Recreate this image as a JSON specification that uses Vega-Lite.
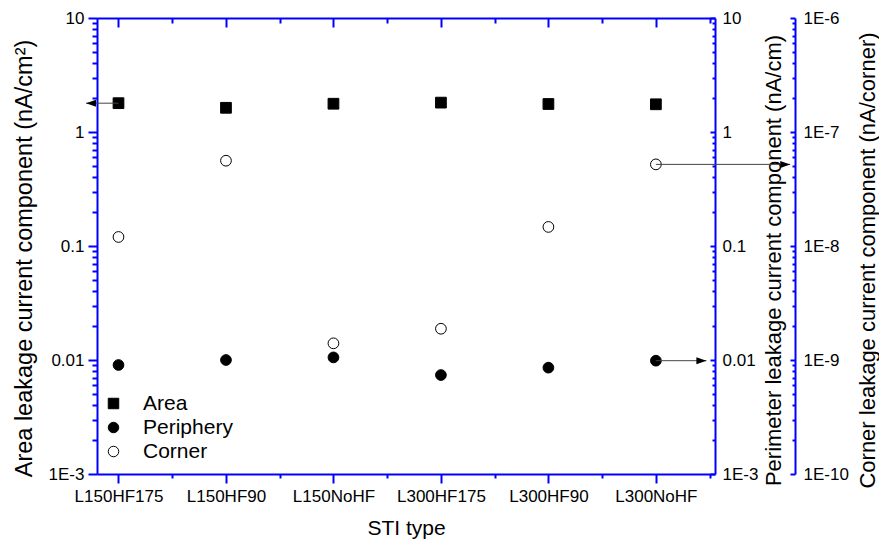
{
  "$schema": "https://vega.github.io/schema/vega-lite/v6.json",
  "width": 618,
  "height": 456,
  "autosize": {"type": "none"},
  "padding": {"left": 97, "top": 18, "right": 164, "bottom": 71},
  "background": "white",
  "config": {
    "font": "Liberation Sans",
    "view": {"stroke": null},
    "axis": {
      "labelFont": "Liberation Sans",
      "titleFont": "Liberation Sans",
      "labelFontSize": 17,
      "titleFontSize": 22,
      "titleFontWeight": "normal",
      "labelColor": "black",
      "titleColor": "black",
      "domainColor": "#0000ff",
      "tickColor": "#0000ff",
      "domainWidth": 2,
      "tickWidth": 2,
      "grid": false,
      "labelFlush": false,
      "labelOverlap": false
    },
    "legend": {"labelFont": "Liberation Sans"}
  },
  "datasets": {
    "sti": [
      {"sti": "L150HF175", "pos": 1, "area": 1.79, "periphery": 0.00904, "corner": 1.2e-8},
      {"sti": "L150HF90", "pos": 2, "area": 1.63, "periphery": 0.0100, "corner": 5.6e-8},
      {"sti": "L150NoHF", "pos": 3, "area": 1.77, "periphery": 0.01054, "corner": 1.4e-9},
      {"sti": "L300HF175", "pos": 4, "area": 1.81, "periphery": 0.00738, "corner": 1.88e-9},
      {"sti": "L300HF90", "pos": 5, "area": 1.76, "periphery": 0.00857, "corner": 1.47e-8},
      {"sti": "L300NoHF", "pos": 6, "area": 1.75, "periphery": 0.00986, "corner": 5.2e-8}
    ],
    "arrowArea": [{"from": 1, "to": 0.698, "value": 1.79}],
    "arrowPeri": [{"from": 6, "to": 6.47, "value": 0.00986}],
    "arrowCorner": [{"from": 6, "to": 7.25, "value": 5.2e-8}]
  },
  "layer": [
    {
      "data": {"name": "sti"},
      "mark": {"type": "point", "filled": true, "strokeWidth": 1, "size": 115, "opacity": 1},
      "encoding": {
        "x": {
          "field": "pos", "type": "quantitative",
          "scale": {"domain": [0.8, 6.55], "nice": false, "zero": false},
          "axis": {
            "orient": "bottom",
            "values": [1, 2, 3, 4, 5, 6],
            "labelExpr": "['', 'L150HF175', 'L150HF90', 'L150NoHF', 'L300HF175', 'L300HF90', 'L300NoHF'][datum.value]",
            "tickSize": 9,
            "labelPadding": 5,
            "title": "STI type",
            "titleFontSize": 21,
            "titlePadding": 13
          }
        },
        "y": {
          "field": "area", "type": "quantitative",
          "scale": {"type": "log", "domain": [0.001, 10], "nice": false},
          "axis": {
            "orient": "left",
            "values": [0.001, 0.01, 0.1, 1, 10],
            "labelExpr": "datum.value < 0.005 ? '1E-3' : format(datum.value, '')",
            "tickSize": 9,
            "labelPadding": 4,
            "title": "Area leakage current component (nA/cm²)",
            "titleFontSize": 23.5,
            "titleY": 240,
            "titlePadding": 12
          }
        },
        "shape": {
          "datum": "Area", "type": "nominal",
          "scale": {"domain": ["Area", "Periphery", "Corner"], "range": ["square", "circle", "circle"]},
          "legend": {"orient": "none", "legendX": 6, "legendY": 375, "title": null, "labelFontSize": 21, "symbolSize": 110, "symbolStrokeWidth": 1, "symbolOpacity": 1, "rowPadding": 2, "labelOffset": 19, "padding": 0}
        },
        "fill": {
          "datum": "Area", "type": "nominal",
          "scale": {"domain": ["Area", "Periphery", "Corner"], "range": ["black", "black", "white"]},
          "legend": {"orient": "none", "legendX": 6, "legendY": 375, "title": null, "labelFontSize": 21, "symbolSize": 110, "symbolStrokeWidth": 1, "symbolOpacity": 1, "rowPadding": 2, "labelOffset": 19, "padding": 0}
        },
        "stroke": {
          "datum": "Area", "type": "nominal",
          "scale": {"domain": ["Area", "Periphery", "Corner"], "range": ["black", "black", "black"]},
          "legend": {"orient": "none", "legendX": 6, "legendY": 375, "title": null, "labelFontSize": 21, "symbolSize": 110, "symbolStrokeWidth": 1, "symbolOpacity": 1, "rowPadding": 2, "labelOffset": 19, "padding": 0}
        }
      }
    },
    {
      "data": {"name": "sti"},
      "mark": {"type": "point", "filled": true, "strokeWidth": 1, "size": 115, "opacity": 1},
      "encoding": {
        "x": {
          "field": "pos", "type": "quantitative",
          "scale": {"domain": [0.8, 6.55], "nice": false, "zero": false},
          "axis": {
            "orient": "top",
            "values": [1, 2, 3, 4, 5, 6],
            "labels": false,
            "tickSize": -9,
            "title": null
          }
        },
        "y": {
          "field": "periphery", "type": "quantitative",
          "scale": {"type": "log", "domain": [0.001, 10], "nice": false},
          "axis": {
            "orient": "right",
            "values": [0.001, 0.01, 0.1, 1, 10],
            "labelExpr": "datum.value < 0.005 ? '1E-3' : format(datum.value, '')",
            "tickSize": -5,
            "labelPadding": 12,
            "title": "Perimeter leakage current component (nA/cm)",
            "titleAngle": 270,
            "titleBaseline": "top",
            "titleY": 242,
            "titlePadding": 6
          }
        },
        "shape": {"datum": "Periphery", "type": "nominal"},
        "fill": {"datum": "Periphery", "type": "nominal"},
        "stroke": {"datum": "Periphery", "type": "nominal"}
      }
    },
    {
      "data": {"name": "sti"},
      "mark": {"type": "point", "filled": true, "strokeWidth": 1, "size": 115, "opacity": 1},
      "encoding": {
        "x": {
          "field": "pos", "type": "quantitative",
          "scale": {"domain": [0.8, 6.55], "nice": false, "zero": false},
          "axis": null
        },
        "y": {
          "field": "corner", "type": "quantitative",
          "scale": {"type": "log", "domain": [1e-10, 1e-6], "nice": false},
          "axis": {
            "orient": "right",
            "offset": 80,
            "values": [1e-10, 1e-9, 1e-8, 1e-7, 1e-6],
            "labelExpr": "'1E' + round(log(datum.value)/LN10)",
            "tickSize": -5,
            "labelPadding": 13,
            "title": "Corner leakage current component (nA/corner)",
            "titleAngle": 270,
            "titleBaseline": "top",
            "titleY": 242,
            "titlePadding": 9
          }
        },
        "shape": {"datum": "Corner", "type": "nominal"},
        "fill": {"datum": "Corner", "type": "nominal"},
        "stroke": {"datum": "Corner", "type": "nominal"}
      }
    },
    {
      "data": {"name": "arrowArea"},
      "mark": {"type": "rule", "color": "#444444", "strokeWidth": 1},
      "encoding": {
        "x": {
          "field": "from", "type": "quantitative",
          "scale": {"domain": [0.8, 6.55], "nice": false, "zero": false},
          "axis": {"orient": "bottom", "values": [1.5, 2.5, 3.5, 4.5, 5.5, 6.5], "labels": false, "domain": false, "tickSize": 4, "title": null}
        },
        "x2": {"field": "to"},
        "y": {
          "field": "value", "type": "quantitative",
          "scale": {"type": "log", "domain": [0.001, 10], "nice": false},
          "axis": {"orient": "left", "values": [0.002, 0.003, 0.004, 0.005, 0.006, 0.007, 0.008, 0.009, 0.02, 0.03, 0.04, 0.05, 0.06, 0.07, 0.08, 0.09, 0.2, 0.3, 0.4, 0.5, 0.6, 0.7, 0.8, 0.9, 2, 3, 4, 5, 6, 7, 8, 9], "labels": false, "domain": false, "tickSize": 5, "title": null}
        }
      }
    },
    {
      "data": {"name": "arrowArea"},
      "mark": {"type": "point", "shape": "M0,0L2,-0.7L2,0.7Z", "filled": true, "color": "black", "size": 100, "opacity": 1},
      "encoding": {
        "x": {
          "field": "to", "type": "quantitative",
          "scale": {"domain": [0.8, 6.55], "nice": false, "zero": false},
          "axis": {"orient": "top", "values": [1.5, 2.5, 3.5, 4.5, 5.5, 6.5], "labels": false, "domain": false, "tickSize": -5, "title": null}
        },
        "y": {"field": "value", "type": "quantitative", "scale": {"type": "log", "domain": [0.001, 10], "nice": false}, "axis": null}
      }
    },
    {
      "data": {"name": "arrowPeri"},
      "mark": {"type": "rule", "color": "#444444", "strokeWidth": 1},
      "encoding": {
        "x": {"field": "from", "type": "quantitative", "scale": {"domain": [0.8, 6.55], "nice": false, "zero": false}, "axis": null},
        "x2": {"field": "to"},
        "y": {
          "field": "value", "type": "quantitative",
          "scale": {"type": "log", "domain": [0.001, 10], "nice": false},
          "axis": {"orient": "right", "values": [0.002, 0.003, 0.004, 0.005, 0.006, 0.007, 0.008, 0.009, 0.02, 0.03, 0.04, 0.05, 0.06, 0.07, 0.08, 0.09, 0.2, 0.3, 0.4, 0.5, 0.6, 0.7, 0.8, 0.9, 2, 3, 4, 5, 6, 7, 8, 9], "labels": false, "domain": false, "tickSize": -3, "title": null}
        }
      }
    },
    {
      "data": {"name": "arrowPeri"},
      "mark": {"type": "point", "shape": "M0,0L-2,-0.7L-2,0.7Z", "filled": true, "color": "black", "size": 100, "opacity": 1},
      "encoding": {
        "x": {"field": "to", "type": "quantitative", "scale": {"domain": [0.8, 6.55], "nice": false, "zero": false}, "axis": null},
        "y": {"field": "value", "type": "quantitative", "scale": {"type": "log", "domain": [0.001, 10], "nice": false}, "axis": null}
      }
    },
    {
      "data": {"name": "arrowCorner"},
      "mark": {"type": "rule", "color": "#444444", "strokeWidth": 1},
      "encoding": {
        "x": {"field": "from", "type": "quantitative", "scale": {"domain": [0.8, 6.55], "nice": false, "zero": false}, "axis": null},
        "x2": {"field": "to"},
        "y": {
          "field": "value", "type": "quantitative",
          "scale": {"type": "log", "domain": [1e-10, 1e-6], "nice": false},
          "axis": {"orient": "right", "offset": 80, "values": [2e-10, 3e-10, 4e-10, 5e-10, 6e-10, 7e-10, 8e-10, 9e-10, 2e-9, 3e-9, 4e-9, 5e-9, 6e-9, 7e-9, 8e-9, 9e-9, 2e-8, 3e-8, 4e-8, 5e-8, 6e-8, 7e-8, 8e-8, 9e-8, 2e-7, 3e-7, 4e-7, 5e-7, 6e-7, 7e-7, 8e-7, 9e-7], "labels": false, "domain": false, "tickSize": -3, "title": null}
        }
      }
    },
    {
      "data": {"name": "arrowCorner"},
      "mark": {"type": "point", "shape": "M0,0L-2,-0.7L-2,0.7Z", "filled": true, "color": "black", "size": 100, "opacity": 1},
      "encoding": {
        "x": {"field": "to", "type": "quantitative", "scale": {"domain": [0.8, 6.55], "nice": false, "zero": false}, "axis": null},
        "y": {"field": "value", "type": "quantitative", "scale": {"type": "log", "domain": [1e-10, 1e-6], "nice": false}, "axis": null}
      }
    }
  ],
  "resolve": {"scale": {"y": "independent"}, "axis": {"y": "independent", "x": "independent"}}
}
